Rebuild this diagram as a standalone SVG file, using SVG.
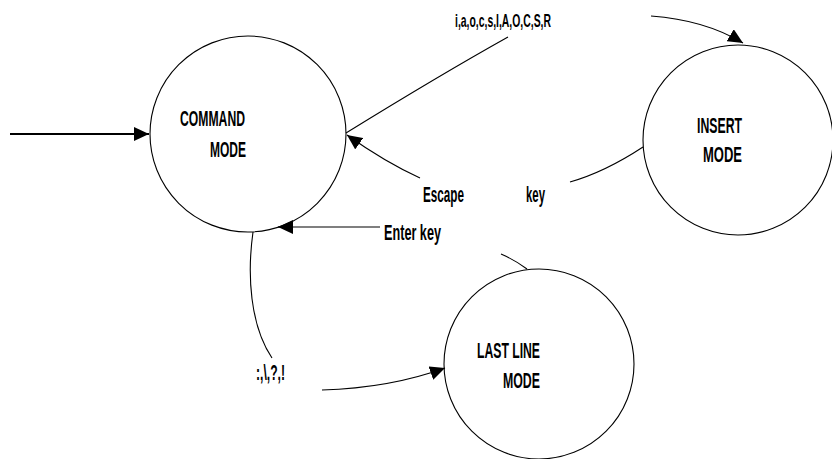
<svg xmlns="http://www.w3.org/2000/svg" width="832" height="459" viewBox="0 0 832 459">
<style>
.node{fill:none;stroke:#000;stroke-width:1.1}
.lbl{font-family:"Liberation Sans",Arial,sans-serif;font-weight:bold;font-size:22px;fill:#000}
.sm{font-size:18.5px}
.edge{fill:none;stroke:#000;stroke-width:1.1}
</style>
<defs>
<marker id="ah" markerUnits="userSpaceOnUse" markerWidth="16" markerHeight="14" refX="15" refY="7" orient="auto">
<path d="M0,0 L15,7 L0,14 Z" fill="#000"/>
</marker>
</defs>
<rect width="832" height="459" fill="#fff"/>
<g id="command">
<circle class="node" cx="248" cy="134" r="98"/>
<text class="lbl" x="180" y="126" textLength="65" lengthAdjust="spacingAndGlyphs">COMMAND</text>
<text class="lbl" x="210" y="157" textLength="36" lengthAdjust="spacingAndGlyphs">MODE</text>
</g>
<g id="insert">
<circle class="node" cx="738" cy="140" r="95"/>
<text class="lbl" x="697" y="133" textLength="45" lengthAdjust="spacingAndGlyphs">INSERT</text>
<text class="lbl" x="703" y="162" textLength="39" lengthAdjust="spacingAndGlyphs">MODE</text>
</g>
<g id="lastline">
<circle class="node" cx="539" cy="364" r="95"/>
<text class="lbl" x="477" y="358" textLength="63" lengthAdjust="spacingAndGlyphs">LAST LINE</text>
<text class="lbl" x="503" y="388" textLength="37" lengthAdjust="spacingAndGlyphs">MODE</text>
</g>
<g id="connectors">
<path d="M10,134 L149,134" stroke="#000" stroke-width="1.8" fill="none" marker-end="url(#ah)"/>
<path class="edge" d="M508,37 Q440,75 346,133"/>
<path class="edge" d="M651,16 Q705,20 743,43" marker-end="url(#ah)"/>
<path class="edge" d="M643,147 Q605,172 570,182"/>
<path class="edge" d="M420,178 Q385,162 347,135" marker-end="url(#ah)"/>
<path class="edge" d="M380,227 L278,227" marker-end="url(#ah)"/>
<path class="edge" d="M527,269 Q515,260 501,254"/>
<path class="edge" d="M253,232 C247,275 250,325 272,358"/>
<path class="edge" d="M322,390 Q390,388 445,368" marker-end="url(#ah)"/>
<text class="lbl sm" x="455" y="27" textLength="96" lengthAdjust="spacingAndGlyphs">i,a,o,c,s,I,A,O,C,S,R</text>
<text class="lbl" x="423" y="202" textLength="41" lengthAdjust="spacingAndGlyphs">Escape</text>
<text class="lbl" x="526" y="202" textLength="19" lengthAdjust="spacingAndGlyphs">key</text>
<text class="lbl" x="384" y="240" textLength="57" lengthAdjust="spacingAndGlyphs">Enter key</text>
<text class="lbl" x="256" y="380" textLength="29" lengthAdjust="spacingAndGlyphs">:,\,?,!</text>
</g>
</svg>
